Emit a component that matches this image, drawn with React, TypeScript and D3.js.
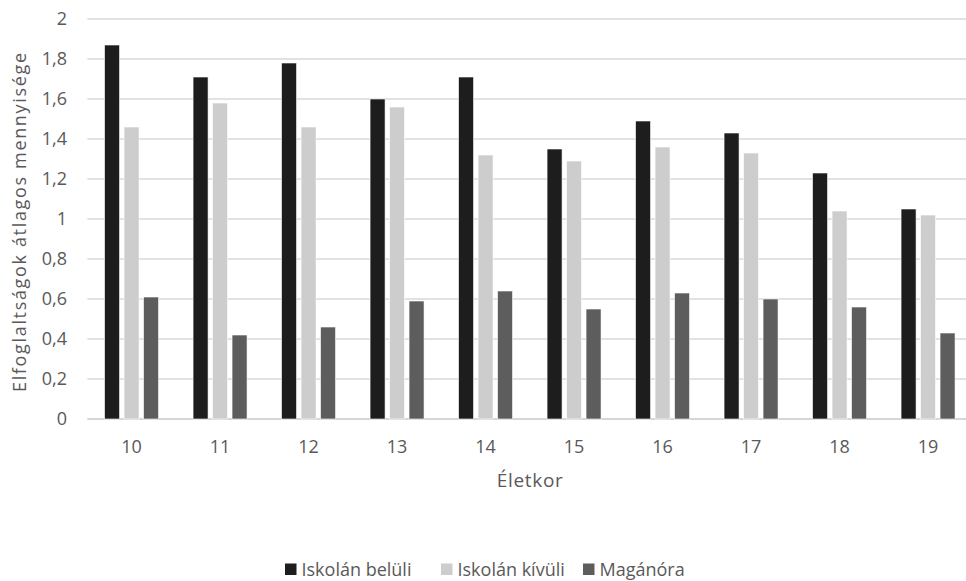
import React from "react";
import * as d3 from "d3";

const ages = ["10", "11", "12", "13", "14", "15", "16", "17", "18", "19"];
const seriesNames = ["Iskolán belüli", "Iskolán kívüli", "Magánóra"];
const inSchool = [1.87, 1.71, 1.78, 1.6, 1.71, 1.35, 1.49, 1.43, 1.23, 1.05];
const outOfSchool = [1.46, 1.58, 1.46, 1.56, 1.32, 1.29, 1.36, 1.33, 1.04, 1.02];
const privateLessons = [0.61, 0.42, 0.46, 0.59, 0.64, 0.55, 0.63, 0.6, 0.56, 0.43];
const yTicks = [0, 0.2, 0.4, 0.6, 0.8, 1, 1.2, 1.4, 1.6, 1.8, 2];
const colors = ["#1d1d1d", "#cdcdcd", "#5d5d5d"];

const W = 966;
const H = 581;
const FONT = "'Open Sans', sans-serif";
const TEXT = "#595959";

export default function App() {
  const values = [inSchool, outOfSchool, privateLessons];
  const x0 = d3.scaleBand<string>().domain(ages).range([87.3, 972.3]).padding(0);
  const step = x0.step();
  const groupW = 54;
  const x1 = d3
    .scaleBand<string>()
    .domain(seriesNames)
    .range([(step - groupW) / 2, (step + groupW) / 2])
    .paddingInner(0.23)
    .paddingOuter(0);
  const y = d3.scaleLinear().domain([0, 2]).range([419, 19]);
  const fmt = (v: number) => d3.format("~g")(v).replace(".", ",");

  const legendItems = [
    { x: 285, label: seriesNames[0], color: colors[0] },
    { x: 441, label: seriesNames[1], color: colors[1] },
    { x: 583, label: seriesNames[2], color: colors[2] },
  ];

  return (
    <svg
      width={W}
      height={H}
      style={{ position: "absolute", left: 0, top: 0, background: "#fff" }}
      fontFamily={FONT}
    >
      {/* horizontal gridlines */}
      {yTicks.map((t) => (
        <line
          key={t}
          x1={87.3}
          x2={W}
          y1={y(t)}
          y2={y(t)}
          stroke={t === 0 ? "#c8c8c8" : "#d9d9d9"}
          strokeWidth={1.3}
        />
      ))}
      {/* y tick labels */}
      {yTicks.map((t) => (
        <text
          key={"l" + t}
          x={67}
          y={y(t)}
          dy="0.36em"
          textAnchor="end"
          fontSize={18}
          fill={TEXT}
        >
          {fmt(t)}
        </text>
      ))}
      {/* bars */}
      {ages.map((a, i) => (
        <g key={a} transform={`translate(${x0(a)},0)`}>
          {seriesNames.map((s, si) => (
            <rect
              key={s}
              x={x1(s)}
              y={y(values[si][i])}
              width={x1.bandwidth()}
              height={y(0) - y(values[si][i])}
              fill={colors[si]}
              stroke="#ffffff"
              strokeWidth={0.6}
            />
          ))}
        </g>
      ))}
      {/* x tick labels */}
      {ages.map((a) => (
        <text
          key={"x" + a}
          x={(x0(a) as number) + step / 2}
          y={453}
          textAnchor="middle"
          fontSize={18}
          fill={TEXT}
        >
          {a}
        </text>
      ))}
      {/* axis titles */}
      <text
        x={529.8}
        y={487}
        textAnchor="middle"
        fontSize={19}
        fill={TEXT}
        textLength={66}
        lengthAdjust="spacing"
      >
        Életkor
      </text>
      <text
        transform={`translate(25.5,${222.5}) rotate(-90)`}
        textAnchor="middle"
        fontSize={18}
        fill={TEXT}
        textLength={339}
        lengthAdjust="spacing"
      >
        Elfoglaltságok átlagos mennyisége
      </text>
      {/* legend */}
      {legendItems.map((it) => (
        <g key={it.label}>
          <rect x={it.x} y={563.5} width={11.5} height={11.5} fill={it.color} />
          <text x={it.x + 16.5} y={575.5} fontSize={18} fill={TEXT}>
            {it.label}
          </text>
        </g>
      ))}
    </svg>
  );
}
